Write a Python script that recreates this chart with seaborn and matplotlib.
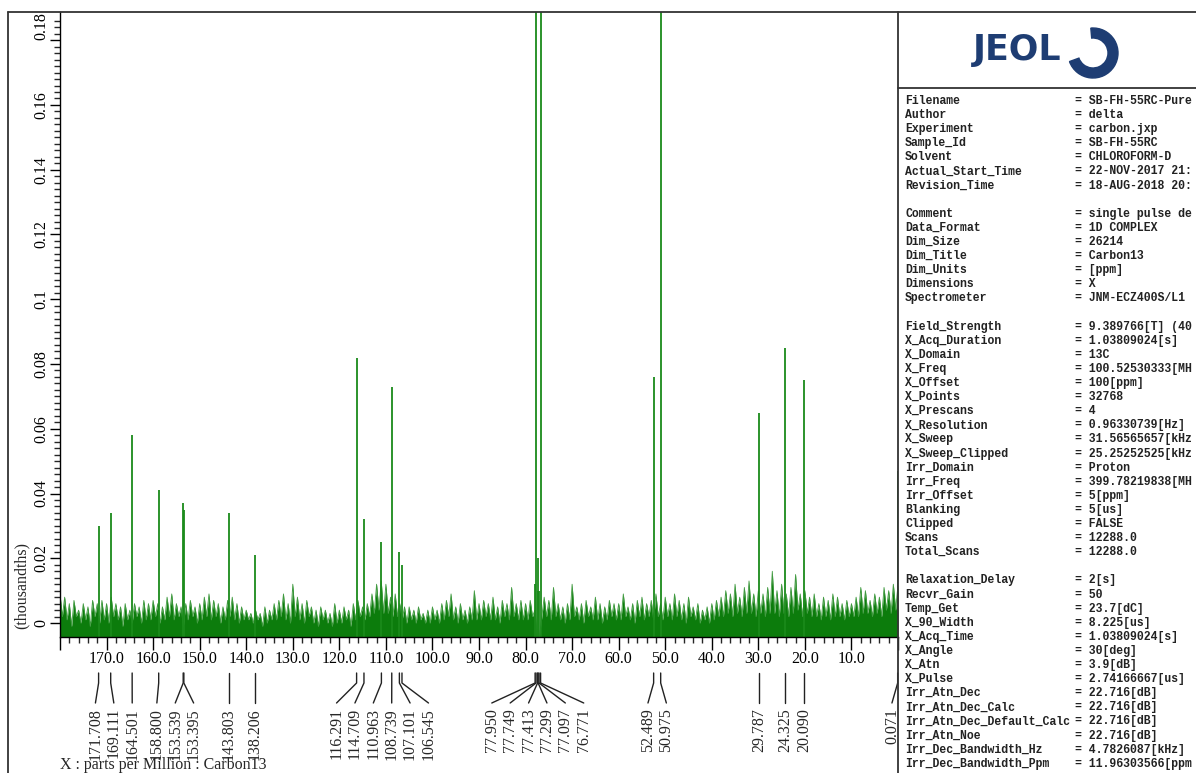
import matplotlib.pyplot as plt
import matplotlib.patches as mpatches
import matplotlib.lines as mlines
import matplotlib.transforms as mtransforms
import numpy as np
import seaborn as sns

# picked peaks (ppm) and their heights (thousandths)
peak_ppm = [171.708, 169.111, 164.501, 158.800, 153.539, 153.395, 143.803, 138.206,
            116.291, 114.709, 110.963, 108.739, 107.101, 106.545,
            77.950, 77.749, 77.413, 77.299, 77.097, 76.771,
            52.489, 50.975, 29.787, 24.325, 20.090, 0.071]
peak_height = [0.030, 0.034, 0.058, 0.041, 0.037, 0.035, 0.034, 0.021,
               0.082, 0.032, 0.025, 0.073, 0.022, 0.018,
               0.012, 0.300, 0.010, 0.020, 0.010, 0.300,
               0.076, 0.300, 0.065, 0.085, 0.075, 0.047]

# baseline noise, every 0.5 ppm from 180 down to 0
noise_vals = [
    0.009, 0.002, 0.008, 0.001, 0.006, -0.001, 0.007, 0.002, 0.004, 0.000, 0.006, 0.001, 0.005, -0.001, 0.007, 0.002, 0.006, 0.000, 0.007, 0.001,
    0.006, 0.000, 0.008, 0.002, 0.006, 0.001, 0.005, -0.001, 0.006, 0.001, 0.004, 0.000, 0.006, 0.002, 0.005, 0.000, 0.007, 0.001, 0.006, 0.001,
    0.007, 0.002, 0.006, 0.000, 0.005, 0.001, 0.008, 0.002, 0.009, 0.001, 0.006, 0.002, 0.005, -0.001, 0.006, 0.001, 0.007, 0.002, 0.005, 0.000,
    0.006, 0.001, 0.008, 0.002, 0.009, 0.001, 0.007, 0.002, 0.006, 0.000, 0.005, 0.001, 0.007, 0.002, 0.008, 0.001, 0.006, 0.000, 0.005, 0.001,
    0.004, 0.001, 0.003, 0.000, 0.004, 0.001, 0.003, -0.001, 0.005, 0.000, 0.004, 0.001, 0.006, 0.001, 0.007, 0.002, 0.009, 0.001, 0.006, 0.000,
    0.012, 0.002, 0.008, 0.001, 0.006, 0.000, 0.007, 0.002, 0.005, 0.000, 0.004, -0.001, 0.005, 0.001, 0.004, 0.000, 0.003, -0.001, 0.006, 0.000,
    0.004, 0.000, 0.005, 0.001, 0.004, -0.001, 0.006, 0.001, 0.007, 0.002, 0.005, 0.001, 0.006, 0.002, 0.009, 0.003, 0.012, 0.004, 0.013, 0.003,
    0.012, 0.003, 0.008, 0.002, 0.009, 0.002, 0.006, 0.001, 0.005, 0.000, 0.005, 0.001, 0.004, 0.000, 0.005, 0.001, 0.003, 0.000, 0.004, 0.000,
    0.005, 0.001, 0.004, 0.000, 0.006, 0.001, 0.007, 0.002, 0.009, 0.001, 0.005, 0.000, 0.006, 0.001, 0.004, 0.000, 0.005, 0.001, 0.010, 0.001,
    0.006, 0.001, 0.007, 0.002, 0.006, 0.001, 0.008, 0.001, 0.005, 0.000, 0.007, 0.002, 0.006, 0.001, 0.011, 0.002, 0.006, 0.001, 0.007, 0.001,
    0.006, 0.001, 0.007, 0.002, 0.004, -0.004, -0.004, 0.002, 0.008, 0.002, 0.007, 0.001, 0.011, 0.002, 0.006, 0.001, 0.005, 0.000, 0.006, 0.001,
    0.012, 0.002, 0.005, 0.001, 0.006, 0.000, 0.007, 0.002, 0.005, 0.001, 0.008, 0.001, 0.006, 0.000, 0.005, 0.001, 0.007, 0.002, 0.006, 0.001,
    0.006, 0.001, 0.009, 0.002, 0.005, 0.001, 0.006, 0.000, 0.007, 0.002, 0.008, 0.001, 0.006, 0.002, 0.007, 0.001, 0.009, 0.002, 0.006, 0.001,
    0.008, 0.002, 0.006, 0.001, 0.009, 0.002, 0.007, 0.001, 0.006, 0.000, 0.008, 0.002, 0.005, 0.001, 0.006, 0.000, 0.004, 0.001, 0.005, 0.000,
    0.006, 0.001, 0.007, 0.002, 0.008, 0.002, 0.010, 0.003, 0.009, 0.002, 0.012, 0.003, 0.008, 0.002, 0.011, 0.003, 0.013, 0.003, 0.009, 0.002,
    0.010, 0.003, 0.009, 0.002, 0.011, 0.003, 0.016, 0.003, 0.010, 0.002, 0.012, 0.003, 0.009, 0.002, 0.011, 0.003, 0.015, 0.004, 0.009, 0.002,
    0.010, 0.003, 0.008, 0.002, 0.009, 0.002, 0.006, 0.001, 0.008, 0.002, 0.007, 0.001, 0.009, 0.002, 0.008, 0.002, 0.006, 0.001, 0.007, 0.002,
    0.006, 0.002, 0.008, 0.002, 0.011, 0.003, 0.010, 0.003, 0.007, 0.002, 0.009, 0.003, 0.008, 0.002, 0.011, 0.004, 0.010, 0.003, 0.012, 0.004,
    0.012,
]
noise_step = 0.5
noise_ppm = 180 - noise_step * np.arange(len(noise_vals))

info_keys = ["Filename", "Author", "Experiment", "Sample_Id", "Solvent", "Actual_Start_Time",
             "Revision_Time", "",
             "Comment", "Data_Format", "Dim_Size", "Dim_Title", "Dim_Units", "Dimensions",
             "Spectrometer", "",
             "Field_Strength", "X_Acq_Duration", "X_Domain", "X_Freq", "X_Offset", "X_Points",
             "X_Prescans", "X_Resolution", "X_Sweep", "X_Sweep_Clipped", "Irr_Domain", "Irr_Freq",
             "Irr_Offset", "Blanking", "Clipped", "Scans", "Total_Scans", "",
             "Relaxation_Delay", "Recvr_Gain", "Temp_Get", "X_90_Width", "X_Acq_Time", "X_Angle",
             "X_Atn", "X_Pulse", "Irr_Atn_Dec", "Irr_Atn_Dec_Calc", "Irr_Atn_Dec_Default_Calc",
             "Irr_Atn_Noe", "Irr_Dec_Bandwidth_Hz", "Irr_Dec_Bandwidth_Ppm"]
info_vals = ["SB-FH-55RC-Pure", "delta", "carbon.jxp", "SB-FH-55RC", "CHLOROFORM-D", "22-NOV-2017 21:",
             "18-AUG-2018 20:", "",
             "single pulse de", "1D COMPLEX", "26214", "Carbon13", "[ppm]", "X",
             "JNM-ECZ400S/L1", "",
             "9.389766[T] (40", "1.03809024[s]", "13C", "100.52530333[MH", "100[ppm]", "32768",
             "4", "0.96330739[Hz]", "31.56565657[kHz", "25.25252525[kHz", "Proton", "399.78219838[MH",
             "5[ppm]", "5[us]", "FALSE", "12288.0", "12288.0", "",
             "2[s]", "50", "23.7[dC]", "8.225[us]", "1.03809024[s]", "30[deg]",
             "3.9[dB]", "2.74166667[us]", "22.716[dB]", "22.716[dB]", "22.716[dB]",
             "22.716[dB]", "4.7826087[kHz]", "11.96303566[ppm"]


def spread(vals, gap):
    # push label positions apart so they do not overlap (vals sorted high -> low)
    groups = [[v] for v in vals]
    changed = True
    while changed:
        changed = False
        for i in range(len(groups) - 1):
            a, b = groups[i], groups[i + 1]
            last_a = np.mean(a) - (len(a) - 1) * gap / 2
            first_b = np.mean(b) + (len(b) - 1) * gap / 2
            if last_a - first_b < gap:
                groups[i] = a + b
                del groups[i + 1]
                changed = True
                break
    out = []
    for g in groups:
        c = np.mean(g)
        out += [c + ((len(g) - 1) / 2 - k) * gap for k in range(len(g))]
    return out


sns.set_style("ticks")
plt.rcParams['font.family'] = ['Liberation Serif', 'DejaVu Serif']

W, H = 1196, 773
fig = plt.figure(figsize=(W / 100, H / 100), dpi=100)
ax = fig.add_axes([60 / W, 1 - 637 / H, 838 / W, 625 / H])

green = '#0c7c0c'
ax.fill_between(noise_ppm, -0.0045, noise_vals, color=green, lw=0)
sns.lineplot(x=noise_ppm, y=noise_vals, ax=ax, color='#3f9a3f', lw=0.6, errorbar=None)
ax.vlines(peak_ppm, -0.0045, peak_height, color='#1a8a1a', lw=1.3)

ax.set_xlim(180, 0)
ax.set_ylim(-0.0043, 0.1887)

# axes / ticks
xt = list(range(180, -1, -10))
ax.set_xticks(xt, ['' if v in (180, 0) else f'{v:.1f}' for v in xt])
ax.set_xticks(np.arange(180, -1, -2), minor=True)
yt = np.round(np.arange(0, 0.181, 0.02), 2)
ax.set_yticks(yt, [f'{v:g}' for v in yt])
ax.set_yticks(np.round(np.arange(0, 0.188, 0.002), 3), minor=True)
ax.tick_params(axis='x', which='major', length=9, width=1, labelsize=11.5, pad=1, colors='black')
ax.tick_params(axis='x', which='minor', length=4.5, width=1)
ax.tick_params(axis='y', which='major', length=7, width=1, labelsize=11.5, pad=0.5, colors='black')
ax.tick_params(axis='y', which='minor', length=4, width=1)
for lab in ax.get_yticklabels():
    lab.set_rotation(90)
    lab.set_va('center')
ax.get_yticklabels()[-1].set_va('bottom')
sns.despine(ax=ax)
for s in ('left', 'bottom'):
    ax.spines[s].set_color('black')
    ax.spines[s].set_linewidth(1.0)
ax.set_xlabel('')
ax.set_ylabel('(thousandths)', fontsize=11.5)
ax.yaxis.set_label_coords(-0.036, 0.083)

# peak labels under the axis
order = np.argsort(peak_ppm)[::-1]
sorted_ppm = [peak_ppm[i] for i in order]
label_pos = [max(v, 1.3) for v in spread(sorted_ppm, 3.95)]
tr = ax.get_xaxis_transform()
for p, lp in zip(sorted_ppm, label_pos):
    ax.plot([p, p, lp], [-0.0576, -0.0736, -0.1056], transform=tr, color='#222222',
            lw=1.0, clip_on=False)
    ax.text(lp, -0.1136, f'{p:.3f}', transform=tr, rotation=90, ha='center', va='top',
            fontsize=11.5, clip_on=False)

fig.text(60 / W, 1 - 765 / H, 'X : parts per Million : Carbon13', fontsize=11.5,
         ha='left', va='center')

# page frame and parameter panel
frame = dict(transform=fig.transFigure, color='#333333', lw=1.3)
fig.add_artist(mlines.Line2D([8 / W, 1], [1 - 12 / H, 1 - 12 / H], **frame))
fig.add_artist(mlines.Line2D([8 / W, 8 / W], [1 - 12 / H, 0], **frame))
fig.add_artist(mlines.Line2D([898 / W, 898 / W], [1 - 12 / H, 0], **frame))
fig.add_artist(mlines.Line2D([898 / W, 1], [1 - 88 / H, 1 - 88 / H], **frame))

navy = '#1e3d73'
fig.text(1017 / W, 1 - 50 / H, 'JEOL', fontsize=25, weight='bold', color=navy,
         family='DejaVu Sans', ha='center', va='center')
fig.add_artist(mpatches.Wedge((1093, H - 53), 25, -160, 95, width=10, color=navy,
                              transform=mtransforms.IdentityTransform()))

for k, (key, val) in enumerate(zip(info_keys, info_vals)):
    if not key:
        continue
    y = 1 - (101 + 14.1 * k) / H
    fig.text(905 / W, y, key, fontsize=8.3, family='Liberation Mono', weight='bold',
             color='#222222', va='center')
    fig.text(1075 / W, y, '= ' + val, fontsize=8.3, family='Liberation Mono', weight='bold',
             color='#222222', va='center')

fig.savefig('out.png', dpi=100)
